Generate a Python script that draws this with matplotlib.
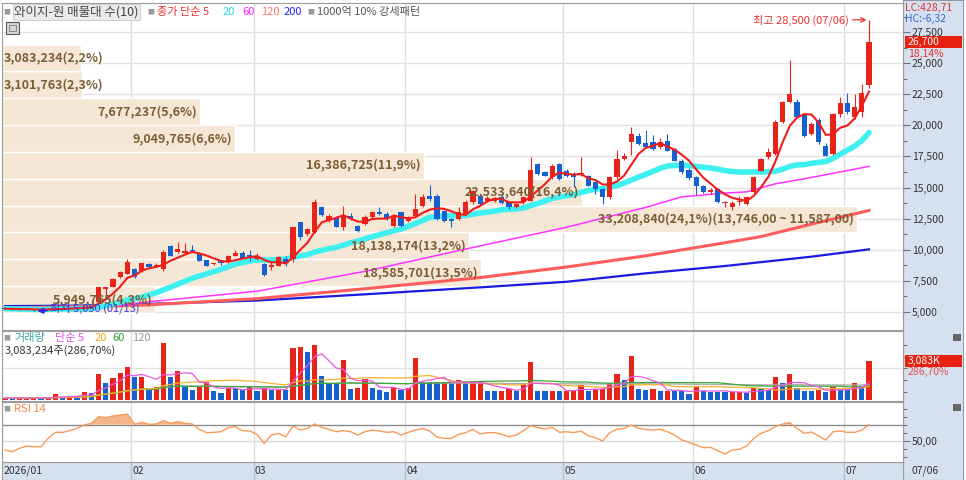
import numpy as np
import pandas as pd
import matplotlib
matplotlib.use("Agg")
import matplotlib.pyplot as plt
from matplotlib.patches import Rectangle
from matplotlib.transforms import blended_transform_factory

plt.rcParams['font.family'] = ['Noto Sans CJK KR', 'DejaVu Sans']

# ---------------- data ----------------
opens = [5300, 5250, 5200, 5150, 5200, 5120, 5180, 5200, 5300, 5250,
         5300, 5280, 5420, 5750, 6850, 7015, 7765, 8040, 8465, 8250,
         8845, 8650, 8465, 10320, 9800, 9700, 9975, 9755, 9150, 8850,
         9100, 9000, 9500, 9750, 9550, 9250, 8850, 8600, 8700, 9250,
         9250, 12200, 11260, 11400, 13450, 12400, 12550, 11800, 12740, 11930,
         12070, 12600, 13000, 12870, 11930, 13000, 12330, 12740, 13540, 14350,
         14350, 13140, 12470, 12470, 12900, 13810, 14350, 13945, 13900, 14270,
         13810, 13460, 13810, 13945, 16905, 16230, 15825, 16905, 16365, 16100,
         16050, 15960, 15420, 14890, 14215, 15825, 17310, 18645, 19185, 18550,
         18645, 18240, 18780, 18110, 17170, 16400, 15825, 15155, 14620, 14890,
         13750, 13405, 13800, 13680, 14620, 16365, 17435, 17710, 20260, 21870,
         21900, 20880, 19320, 20475, 18380, 17710, 20880, 21790, 20665, 21065,
         23215]
highs = [5350, 5300, 5250, 5250, 5220, 5250, 5300, 5400, 5350, 5380,
         5350, 5500, 5480, 7000, 7000, 7700, 8300, 9250, 8500, 8950,
         8900, 8900, 9950, 10400, 10585, 10500, 10400, 9800, 9200, 8950,
         9200, 9600, 10000, 9900, 9950, 9750, 8900, 9000, 9500, 9450,
         11850, 12250, 11700, 14080, 13550, 12900, 12700, 13500, 12950, 12000,
         12750, 13100, 13400, 13000, 12870, 13050, 12700, 14485, 14485, 15200,
         14450, 13200, 12550, 13400, 14000, 14800, 14500, 14350, 14200, 14400,
         13900, 13750, 14300, 17435, 17000, 16300, 16900, 17000, 16500, 16230,
         17435, 16000, 15500, 14950, 15900, 18000, 17800, 19855, 19400, 19590,
         19200, 19000, 19300, 18200, 17300, 16600, 15900, 15200, 14950, 14950,
         13950, 13900, 14300, 14300, 15950, 17400, 18200, 20400, 22000, 25230,
         22100, 21000, 20300, 20600, 18600, 21000, 22300, 22600, 22500, 23300,
         28500]
lows = [5200, 5150, 5150, 5100, 5050, 5100, 5150, 5180, 5200, 5220,
        5230, 5250, 5330, 5700, 6150, 6950, 7700, 8000, 7750, 8200,
        8600, 8600, 8300, 9450, 9750, 9650, 9800, 9050, 8650, 8800,
        8800, 8950, 9450, 9300, 9100, 9200, 7900, 8350, 8650, 8650,
        9000, 10800, 11100, 11300, 12700, 12250, 11800, 11550, 12400, 11450,
        12000, 12550, 12800, 12400, 11800, 11850, 12250, 12600, 13400, 13950,
        12400, 12250, 11800, 12400, 12800, 13700, 13600, 13850, 13800, 13650,
        13300, 13350, 13700, 13900, 16000, 15900, 15700, 15600, 15850, 15050,
        15950, 15100, 14500, 13700, 14100, 15700, 17200, 17600, 18400, 18150,
        18050, 18100, 17900, 17100, 16100, 15600, 14400, 14550, 14500, 13750,
        13405, 13200, 13600, 13600, 14500, 16300, 17300, 17600, 20200, 21800,
        20600, 19100, 19200, 18500, 17500, 17600, 20700, 20900, 20500, 20700,
        23000]
closes = [5250, 5200, 5180, 5200, 5110, 5180, 5220, 5300, 5250, 5300,
          5280, 5400, 5380, 6960, 6950, 7635, 8170, 8975, 7820, 8895,
          8625, 8750, 9780, 9515, 10055, 9900, 9850, 9110, 8710, 8900,
          8900, 9500, 9750, 9350, 9400, 9400, 7950, 8800, 9380, 8900,
          11800, 10990, 11660, 13810, 12750, 12700, 11850, 12740, 12470, 11530,
          12600, 13000, 12870, 12470, 12740, 11930, 12600, 13270, 14215, 14100,
          12470, 12330, 12330, 13000, 13850, 14750, 13680, 14165, 14050, 13730,
          13400, 13680, 14215, 16420, 16100, 15960, 16770, 15695, 15960, 15825,
          16150, 15155, 14890, 14215, 15825, 17310, 17575, 19320, 18515, 18240,
          18110, 18700, 17975, 17170, 16230, 15750, 15155, 14620, 14810, 13810,
          13850, 13760, 13950, 14215, 15880, 17310, 17840, 20260, 21870, 22545,
          20665, 19185, 20130, 18645, 17575, 20880, 21790, 21065, 21470, 22600,
          26700]
volumes = [150000, 140000, 150000, 160000, 170000, 150000, 160000, 470000, 210000, 315000,
           300000, 630000, 525000, 2025000, 1315000, 1710000, 2100000, 2630000, 1840000, 1850000,
           790000, 1050000, 4470000, 1790000, 2315000, 1130000, 790000, 1050000, 1450000, 735000,
           580000, 950000, 950000, 790000, 1050000, 735000, 920000, 790000, 800000, 790000,
           4080000, 4155000, 3760000, 4340000, 1895000, 1370000, 1315000, 3155000, 840000, 920000,
           1655000, 920000, 790000, 660000, 975000, 790000, 975000, 3290000, 1450000, 1395000,
           1395000, 1420000, 1315000, 1580000, 1315000, 1330000, 1450000, 735000, 720000, 745000,
           870000, 735000, 1260000, 3000000, 735000, 725000, 740000, 730000, 745000, 760000,
           1180000, 735000, 840000, 850000, 1370000, 2025000, 1580000, 3470000, 840000, 830000,
           870000, 710000, 735000, 710000, 700000, 475000, 1000000, 735000, 660000, 650000,
           600000, 610000, 620000, 590000, 975000, 840000, 790000, 1840000, 1315000, 2050000,
           920000, 735000, 730000, 790000, 660000, 1050000, 790000, 780000, 1315000, 1075422,
           3083234]
rsi14 = [38.2, 36.1, 40.3, 43.3, 42.4, 42.4, 52.9, 60.5, 60.5, 62.6,
         65.5, 69.7, 71.8, 80.2, 79.0, 81.1, 82.3, 83.6, 70.6, 73.1,
         70.6, 71.0, 75.2, 71.8, 73.9, 71.8, 71.0, 64.3, 60.1, 60.5,
         61.3, 66.4, 67.6, 62.6, 62.2, 58.0, 46.6, 57.1, 59.2, 55.0,
         68.5, 63.4, 65.5, 71.0, 66.8, 64.3, 61.3, 62.6, 61.3, 57.1,
         61.3, 63.4, 62.2, 60.5, 61.3, 57.1, 60.5, 63.4, 65.5, 62.0,
         54.6, 52.9, 52.9, 58.0, 60.1, 64.3, 58.4, 60.1, 60.1, 58.0,
         55.0, 57.1, 62.6, 68.9, 66.4, 64.7, 66.8, 60.5, 61.3, 60.1,
         62.2, 56.3, 53.8, 49.6, 60.1, 64.3, 65.5, 69.7, 65.5, 64.3,
         63.4, 64.3, 61.3, 57.1, 50.8, 47.9, 44.5, 41.2, 41.6, 37.4,
         33.2, 38.2, 39.1, 43.3, 52.9, 59.2, 62.6, 67.6, 71.0, 72.7,
         65.5, 59.2, 60.9, 55.9, 50.8, 61.3, 62.2, 60.5, 60.5, 63.4,
         70.1]

# long moving averages (index, value)
ma60_idx = [0, 13, 20, 35, 50, 66, 78, 89, 94, 100, 103, 107, 111, 120]
ma60_val = [5200, 5350, 5800, 6650, 8250, 10300, 11800, 13400, 14250, 14550, 14650, 15300, 15700, 16700]
ma120_idx = [0, 13, 20, 35, 50, 66, 78, 89, 100, 105, 112, 120]
ma120_val = [5300, 5430, 5550, 6050, 6850, 7750, 8600, 9500, 10550, 11050, 12050, 13150]
ma200_idx = [0, 13, 35, 50, 66, 78, 89, 100, 112, 120]
ma200_val = [5450, 5500, 5900, 6400, 6960, 7410, 8090, 8680, 9430, 10020]

# volume profile (매물대), bottom band first
profile_vol = [5949765, 18585701, 18138174, 33208840, 22533640,
               16386725, 9049765, 7677237, 3101763, 3083234]

month_starts = [18, 35, 56, 78, 96, 117]
month_labels = ['02', '03', '04', '05', '06', '07']
first_label = '2026/01'
last_date = '07/06'
hi_date = '07/06'
lo_date = '01/13'
lc_value = 428.71
hc_value = -6.32
price_ticks = [5000, 7500, 10000, 12500, 15000, 17500, 20000, 22500, 25000, 27500]

RED = '#e8231a'
BLUE = '#1660d0'
W, H = 966, 480


def kr(s):
    # the chart font shows decimal points as commas
    return s.replace('.', ',')


def fb(x0, y0, x1, y1):
    return [x0 / W, 1 - y1 / H, (x1 - x0) / W, (y1 - y0) / H]


fig = plt.figure(figsize=(W / 100, H / 100), dpi=100)
fig.patch.set_facecolor('white')


def prect(x0, y0, x1, y1, **kw):
    fig.add_artist(Rectangle((x0 / W, 1 - y1 / H), (x1 - x0) / W, (y1 - y0) / H,
                             transform=fig.transFigure, **kw))


def ptext(x, y, s, **kw):
    kw.setdefault('fontsize', 8)
    return fig.text(x / W, 1 - y / H, s, va='center', ha=kw.pop('ha', 'left'), **kw)


# right scale panel and bottom date bar
ax_side = fig.add_axes(fb(903, 0, 963, 480))
ax_side.set_facecolor('#d6e1ef')
ax_side.set_xticks([])
ax_side.set_yticks([])
for s in ax_side.spines.values():
    s.set_color('#8e98a6')

ax_date = fig.add_axes(fb(2, 462, 903, 480))
ax_date.set_facecolor('#d6e1ef')

ax_p = fig.add_axes(fb(2, 3, 903, 330))
ax_v = fig.add_axes(fb(2, 331, 903, 401))
ax_r = fig.add_axes(fb(2, 402, 903, 461.5))

x = np.arange(len(closes))
xl = ((2 - 5) / 7.2, (903 - 5) / 7.2)
for ax in (ax_p, ax_v, ax_r, ax_date):
    ax.set_xlim(xl)
    ax.set_xticks([])
    for s in ax.spines.values():
        s.set_color('#9c9c9c')
    for m in month_starts:
        ax.axvline(m - 0.45, color='#dedede' if ax is not ax_date else '#b4c0d0', lw=1, zorder=0)

# ---------------- price panel ----------------
o, h, l, c = map(np.array, (opens, highs, lows, closes))
ax_p.set_ylim(3527, 29855)
for v in price_ticks:
    ax_p.axhline(v, color='#e2e2e2', lw=1, zorder=0.5)

trans_p = blended_transform_factory(ax_p.transAxes, ax_p.transData)
edges = np.linspace(c.min(), c.max(), len(profile_vol) + 1)
step = edges[1] - edges[0]
vmax = max(profile_vol)
total = sum(profile_vol)
band_texts = []
for k, pv in enumerate(profile_vol):
    w = pv / vmax * (855 / 901)
    ax_p.add_patch(Rectangle((0, edges[k] - 200), w, step, transform=trans_p,
                             facecolor='#f5e7d6', edgecolor='white', lw=1, zorder=1))
    label = kr(f"{pv:,}({pv / total * 100:.1f}%)")
    if pv == vmax:
        label += kr(f"({edges[k + 1]:,.2f} ~ {edges[k]:,.2f})")
    t = ax_p.text(w - 3 / 901, edges[k] + step / 2 - 200, label, transform=trans_p,
                  ha='right', va='center', fontsize=9, fontweight='semibold',
                  color='#7b5e34', zorder=9)
    band_texts.append(t)

ax_p.plot(ma200_idx, ma200_val, color='#1a1ae0', lw=1.6, zorder=3)
ax_p.plot(ma120_idx, ma120_val, color='#ff5c5c', lw=2.2, zorder=3)
ax_p.plot(ma60_idx, ma60_val, color='#ff33ff', lw=1.1, zorder=3)
cs = pd.Series(closes)
ax_p.plot(x, cs.rolling(20, min_periods=1).mean(), color='#3ff0f0', lw=4.0,
          solid_capstyle='round', zorder=4)

up = c >= o
ccol = np.where(up, RED, BLUE)
ax_p.vlines(x, l, h, colors=ccol, lw=0.8, zorder=5)
ax_p.bar(x, np.maximum(np.abs(c - o), 40), bottom=np.minimum(o, c), width=0.7,
         color=ccol, zorder=6)
ax_p.plot(x, cs.rolling(5, min_periods=1).mean(), color='#f01c1c', lw=1.5, zorder=7)

# high / low markers
ih = int(np.argmax(h))
il = int(np.argmin(l))
ax_p.annotate(f"최고 {h[ih]:,} ({hi_date})", xy=(ih - 0.35, h[ih]), xytext=(-13, 0),
              textcoords='offset points', ha='right', va='center', fontsize=8, color='#e83030',
              arrowprops=dict(arrowstyle='->', color='#e83030', lw=0.9, shrinkA=1, shrinkB=0),
              zorder=10)
ax_p.annotate(f"최저 {l[il]:,} ({lo_date})", xy=(il + 0.5, l[il]), xytext=(9, 2),
              textcoords='offset points', ha='left', va='center', fontsize=8, color='#3a3ad8',
              arrowprops=dict(arrowstyle='-|>', color='#2a2ae0', lw=1.2, shrinkA=0, shrinkB=0,
                              mutation_scale=8),
              zorder=10)

ax_p.yaxis.tick_right()
ax_p.set_yticks(price_ticks)
ax_p.set_yticklabels([f"{v:,}" for v in price_ticks])
ax_p.set_yticks(np.arange(6250, 29000, 2500), minor=True)
ax_p.tick_params(axis='y', which='major', direction='out', length=5, width=0.8, color='#707070',
                 labelsize=7.5, labelcolor='#333333', pad=1.5)
ax_p.tick_params(axis='y', which='minor', direction='out', length=3, width=0.8, color='#707070')

# current price box
prev_c = c[-2]
ax_p.add_patch(Rectangle((1.0022, c[-1] - 480), 0.0633, 960, transform=trans_p,
                         facecolor='#e8200f', edgecolor='none', clip_on=False, zorder=10))
ax_p.text(1.0055, c[-1], f"{c[-1]:,}", transform=trans_p, color='white', fontsize=7.5,
          va='center', ha='left', zorder=11)
ax_p.text(1.0055, c[-1] - 960, kr(f"{(c[-1] / prev_c - 1) * 100:.2f}%"), transform=trans_p,
          color='#e83030', fontsize=7.5, va='center', ha='left', zorder=11)

# ---------------- volume panel ----------------
vol = np.array(volumes)
vcol = [RED] + [RED if vol[i] > vol[i - 1] else BLUE for i in range(1, len(vol))]
ax_v.set_ylim(-79000, 5455000)
ax_v.axhline(2500000, color='#e2e2e2', lw=1, zorder=0)
ax_v.bar(x, vol, width=0.7, color=vcol, zorder=2)
vs = pd.Series(vol)
for n, colr in [(120, '#a8a8a8'), (60, '#38a838'), (20, '#f5b030'), (5, '#e858e0')]:
    ax_v.plot(x, vs.rolling(n, min_periods=1).mean(), color=colr, lw=0.9, zorder=3)
ax_v.yaxis.tick_right()
ax_v.set_yticks(np.arange(660000, 5000000, 920000))
ax_v.set_yticklabels([])
ax_v.tick_params(axis='y', direction='out', length=3, width=0.8, color='#707070')

trans_v = blended_transform_factory(ax_v.transAxes, ax_v.transData)
ax_v.add_patch(Rectangle((1.0022, vol[-1] - 470000), 0.0633, 940000, transform=trans_v,
                         facecolor='#e8200f', edgecolor='none', clip_on=False, zorder=10))
ax_v.text(1.0055, vol[-1], f"{vol[-1] / 1000:,.0f}K", transform=trans_v, color='white',
          fontsize=7.5, va='center', ha='left', zorder=11)
vratio = vol[-1] / vol[-2] * 100
ax_v.text(1.0055, vol[-1] - 880000, kr(f"{vratio:.2f}%"), transform=trans_v,
          color='#e85050', fontsize=7.5, va='center', ha='left', zorder=11)

# ---------------- RSI panel ----------------
r = np.array(rsi14)
ax_r.set_ylim(23.8, 98.7)
ax_r.axhline(50, color='#dadada', lw=1, zorder=0)
ax_r.axhline(70, color='#8c8c8c', lw=1, zorder=1)
ax_r.fill_between(x, r, 70, where=r > 70, interpolate=True, color='#f6b68c', lw=0, zorder=2)
ax_r.plot(x, r, color='#f89a58', lw=1, zorder=3)
ax_r.yaxis.tick_right()
ax_r.set_yticks([50])
ax_r.set_yticklabels(['50,00'])
ax_r.set_yticks([30, 40, 60, 70, 80, 90], minor=True)
ax_r.tick_params(axis='y', which='major', direction='out', length=5, width=0.8, color='#707070',
                 labelsize=7.5, labelcolor='#333333', pad=1.5)
ax_r.tick_params(axis='y', which='minor', direction='out', length=3, width=0.8, color='#707070')

# ---------------- date bar ----------------
ax_date.set_ylim(0, 1)
ax_date.set_yticks([])
ax_date.text(-0.15, 0.5, first_label, fontsize=7.5, color='#333333', va='center', ha='left')
for m, lab in zip(month_starts, month_labels):
    ax_date.text(m - 0.3, 0.5, lab, fontsize=7.5, color='#333333', va='center', ha='left')
ptext(911, 471, last_date, fontsize=7.5, color='#333333')

# ---------------- header texts ----------------
ptext(3, 12, '■', fontsize=5, color='#9a9a9a')
ptext(14, 12, '와이지-원 매물대 수(10)', fontsize=9, color='#444444',
      bbox=dict(boxstyle='square,pad=0.12', fc='#ebebeb', ec='#cfcfcf', lw=0.8))
ptext(147, 12, '■', fontsize=5, color='#9a9a9a')
ptext(157, 12, '종가 단순 5', color='#f03030')
ptext(223, 12, '20', color='#20dede')
ptext(242, 12, '60', color='#ff20ff')
ptext(261, 12, '120', color='#ff7070')
ptext(284, 12, '200', color='#2424ff')
ptext(307, 12, '■', fontsize=5, color='#9a9a9a')
ptext(317, 12, '1000억 10% 강세패턴', color='#555555')
prect(6, 22, 19, 34, facecolor='#d8d8d8', edgecolor='#555555', lw=0.8)
prect(9, 25, 16, 31, facecolor='none', edgecolor='#777777', lw=0.6)

ptext(905, 8, kr(f"LC:{lc_value:.2f}"), fontsize=7.5, color='#e03838')
ptext(905, 19, kr(f"HC:{hc_value:.2f}"), fontsize=7.5, color='#3a6ad0')

ptext(3, 338, '■', fontsize=5, color='#9a9a9a')
ptext(14, 338, '거래량', color='#3aa6a6')
ptext(55, 338, '단순 5', color='#e050e0')
ptext(95, 338, '20', color='#f0a820')
ptext(112, 338, '60', color='#30a030')
ptext(132, 338, '120', color='#999999')
ptext(5, 351, kr(f"{vol[-1]:,}주({vratio:.2f}%)"), color='#333333')

ptext(3, 409, '■', fontsize=5, color='#9a9a9a')
ptext(14, 409, 'RSI 14', color='#f58a40')

prect(953, 334, 961, 341, facecolor='#666666', edgecolor='none')
prect(953, 404, 961, 411, facecolor='#666666', edgecolor='none')

# keep band labels inside the chart when the band is too short
fig.canvas.draw()
rend = fig.canvas.get_renderer()
left_px = ax_p.get_window_extent(rend).x0
for t in band_texts:
    bb = t.get_window_extent(rend)
    if bb.x0 < left_px + 2:
        t.set_ha('left')
        t.set_x(2 / 901)

fig.savefig('out.png', dpi=100)
